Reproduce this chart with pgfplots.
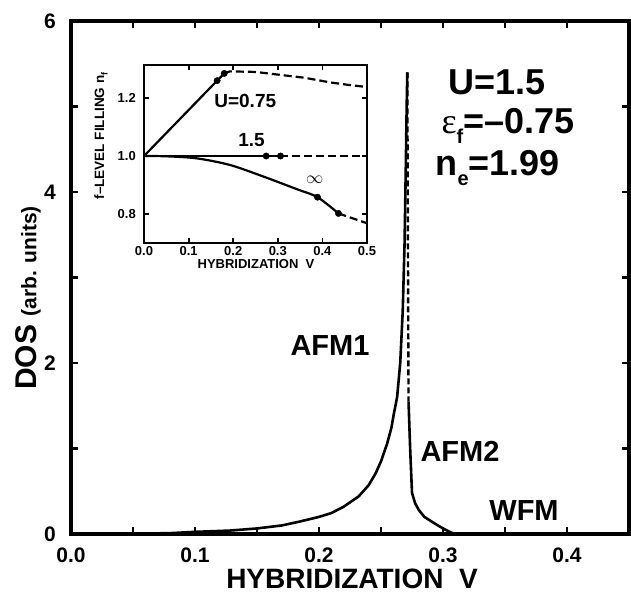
\documentclass[border=0pt]{standalone}
\usepackage{pgfplots}
\pgfplotsset{compat=1.18}
\usepackage{fontspec}
\setmainfont{Liberation Sans}
\newfontfamily\greekfont{Liberation Serif}
\newcommand{\fs}[1]{\fontsize{#1bp}{#1bp}\selectfont}
\begin{document}
\begin{tikzpicture}[x=1bp,y=1bp]
\useasboundingbox (0,0) rectangle (631,596);
% ---------------- main axis ----------------
\begin{axis}[
  at={(71bp,62bp)}, anchor=south west,
  scale only axis, width=558bp, height=513bp,
  xmin=0, xmax=0.45, ymin=0, ymax=6,
  xtick={0,0.1,0.2,0.3,0.4}, minor xtick={0.05,0.15,0.25,0.35},
  xticklabels={0.0,0.1,0.2,0.3,0.4},
  ytick={0,2,4,6}, minor ytick={1,3,5},
  yticklabels={0,2,4,6},
  tick align=inside,
  major tick length=7bp, minor tick length=7bp,
  every tick/.style={line width=2.5bp, black},
  axis line style={line width=4bp},
  /pgf/number format/assume math mode=true,
  tick label style={font=\fs{21}\bfseries},
  xticklabel style={inner sep=0pt, yshift=-14bp},
  yticklabel style={inner sep=0pt, xshift=-15bp},
  clip=false,
]
\addplot[black, line width=2.6bp, line join=round] coordinates {
(0,0) (0.05,0.003) (0.08,0.01) (0.1,0.025) (0.128,0.04) (0.15,0.065)
(0.17,0.1) (0.184,0.144) (0.2,0.2) (0.21,0.245) (0.22,0.32) (0.232,0.44)
(0.24,0.57) (0.2457,0.71) (0.25,0.85) (0.255,1.06) (0.2585,1.25)
(0.2604,1.41) (0.263,1.6) (0.2655,2.0) (0.2675,2.6) (0.269,3.4)
(0.2700,4.3) (0.2707,5.0) (0.2712,5.4)
};
\addplot[black, line width=2.4bp, dash pattern=on 6bp off 3bp] coordinates {
(0.2712,5.4) (0.2722,1.55)
};
\addplot[black, line width=2.6bp, line join=round] coordinates {
(0.2722,1.55) (0.2735,1.0) (0.275,0.48) (0.2775,0.36) (0.2805,0.28)
(0.285,0.2) (0.291,0.144) (0.297,0.09) (0.302,0.05) (0.306,0.02)
(0.31,0) (0.45,0)
};
\end{axis}
% labels of the main axis
\node[font=\fs{28}\bfseries] at (352,17) {HYBRIDIZATION\ \ V};
\node[rotate=90, font=\bfseries] at (28,298) {\fs{30}DOS \fs{21}(arb. units)};
\node[anchor=west, font=\fs{36}\bfseries] at (445,514) {U=1.5};
\node[anchor=west, font=\fs{36}\bfseries] at (438,470) {{\greekfont\mdseries ε}\raisebox{-0.28em}{\fs{20}f}=–0.75};
\node[anchor=west, font=\fs{36}\bfseries] at (432,428) {n\raisebox{-0.28em}{\fs{20}e}=1.99};
\node[font=\fs{29}\bfseries] at (330,250) {AFM1};
\node[font=\fs{29}\bfseries] at (460,145) {AFM2};
\node[font=\fs{29}\bfseries] at (524,85) {WFM};
% ---------------- inset ----------------
\begin{axis}[
  at={(144bp,353bp)}, anchor=south west,
  scale only axis, width=223bp, height=178bp,
  xmin=0, xmax=0.5, ymin=0.70, ymax=1.314,
  xtick={0,0.1,0.2,0.3,0.4,0.5},
  xticklabels={0.0,0.1,0.2,0.3,0.4,0.5},
  ytick={0.8,1.0,1.2},
  yticklabels={0.8,1.0,1.2},
  tick align=inside,
  major tick length=5bp,
  every tick/.style={line width=1.8bp, black},
  axis line style={line width=2.8bp},
  /pgf/number format/assume math mode=true,
  tick label style={font=\fs{13}\bfseries},
  xticklabel style={inner sep=0pt, yshift=-3bp},
  yticklabel style={inner sep=0pt, xshift=-8bp},
  axis background/.style={fill=white},
]
\addplot[black, line width=2.2bp] coordinates {(0,1.0) (0.164,1.26) (0.180,1.285)};
\addplot[black, only marks, mark=*, mark size=3.2bp] coordinates {(0.164,1.26) (0.180,1.285)};
\addplot[black, line width=2.2bp, dash pattern=on 8bp off 4bp] coordinates {
(0.180,1.285) (0.193,1.292) (0.25,1.29) (0.305,1.28) (0.36,1.27) (0.417,1.254) (0.46,1.245) (0.5,1.238)};
\addplot[black, line width=2.2bp] coordinates {(0,1.0) (0.306,1.0)};
\addplot[black, only marks, mark=*, mark size=3.2bp] coordinates {(0.274,1.0) (0.306,1.0)};
\addplot[black, line width=2.2bp, dash pattern=on 8bp off 4bp] coordinates {(0.306,1.0) (0.5,1.0)};
\addplot[black, line width=2.2bp, smooth] coordinates {
(0,1.0) (0.05,0.999) (0.118,0.992) (0.193,0.969) (0.268,0.929) (0.342,0.886) (0.389,0.858) (0.436,0.802)};
\addplot[black, only marks, mark=*, mark size=3.2bp] coordinates {(0.389,0.858) (0.436,0.802)};
\addplot[black, line width=2.2bp, dash pattern=on 8bp off 4bp] coordinates {(0.436,0.802) (0.5,0.768)};
\node[font=\fs{19}\bfseries] at (axis cs:0.227,1.19) {U=0.75};
\node[font=\fs{19}\bfseries] at (axis cs:0.241,1.055) {1.5};
\node[font=\fs{16}] at (axis cs:0.383,0.918) {$\infty$};
\end{axis}
\node[font=\fs{13}\bfseries] at (256,332) {HYBRIDIZATION\ \ V};
\node[rotate=90, font=\fs{13.5}\bfseries] at (101,460) {f–LEVEL FILLING n\raisebox{-0.25em}{\fs{9}f}};
\end{tikzpicture}
\end{document}
